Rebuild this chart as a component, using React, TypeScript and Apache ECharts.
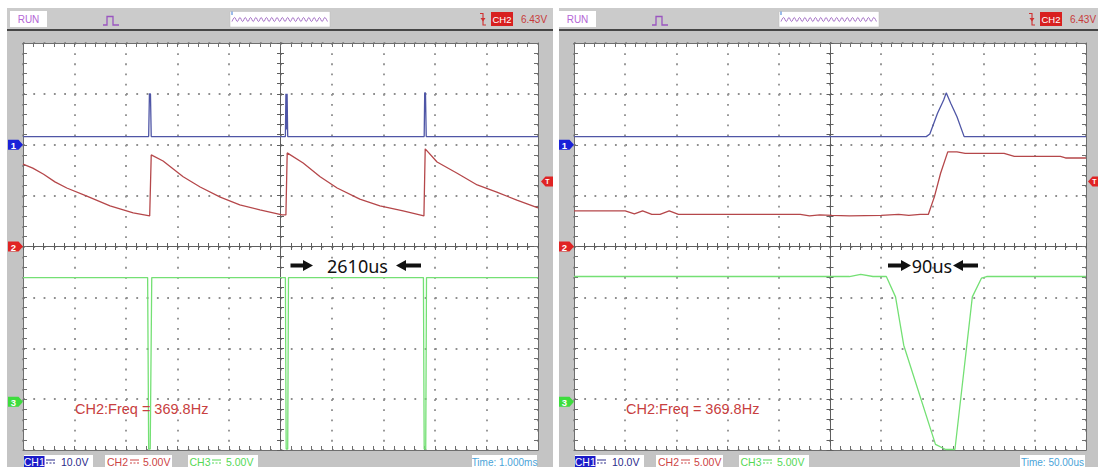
import React, { useEffect, useRef } from "react";
import * as echarts from "echarts";

// ---------- DATA (x: time, y: screen divisions, -4..4) ----------
const leftTimeRange = [-5, 5]; // ms, 1.000 ms/div
const rightTimeRange = [-250, 250]; // us, 50.00 us/div
const leftStep = 1;
const rightStep = 50;

const ch1Left = [
  [-5, 2.16], [-2.56, 2.16], [-2.545, 3.0], [-2.525, 3.0], [-2.51, 2.16],
  [0.095, 2.16], [0.105, 3.0], [0.118, 2.3], [0.128, 3.0], [0.14, 2.16],
  [2.79, 2.16], [2.8, 3.02], [2.815, 3.02], [2.83, 2.16], [5, 2.16],
];
const ch2Left = [
  [-5.0, 1.62], [-4.81, 1.54], [-4.6, 1.42], [-4.38, 1.27], [-4.15, 1.15], [-3.76, 0.99], [-3.31, 0.8], [-2.86, 0.66], [-2.54, 0.6],
  [-2.51, 1.8], [-2.28, 1.68], [-1.89, 1.37], [-1.56, 1.17], [-1.17, 0.97], [-0.79, 0.82], [-0.4, 0.72], [0.03, 0.62], [0.105, 0.62],
  [0.13, 1.84], [0.44, 1.64], [0.77, 1.37], [1.1, 1.15], [1.54, 0.93], [1.93, 0.8], [2.38, 0.7], [2.785, 0.6],
  [2.81, 1.92], [3.04, 1.66], [3.43, 1.44], [3.82, 1.21], [4.2, 1.07], [4.59, 0.91], [5.0, 0.76],
];
const ch3Left = [
  [-5, -0.61], [-2.58, -0.61], [-2.56, -3.98], [-2.53, -3.98], [-2.5, -0.61],
  [0.095, -0.61], [0.11, -3.98], [0.14, -3.98], [0.155, -0.61],
  [2.775, -0.61], [2.79, -3.98], [2.82, -3.98], [2.835, -0.61], [5, -0.61],
];
const ch1Right = [
  [-250, 2.16], [94, 2.16], [97.5, 2.21], [105, 2.62], [111, 2.88], [113.5, 3.02], [118, 2.81], [124, 2.55], [131, 2.16], [250, 2.16],
];
const ch2Right = [
  [-250, 0.7], [-200, 0.7], [-191, 0.64], [-183, 0.7], [-174, 0.63], [-166, 0.63], [-157, 0.7], [-148, 0.63],
  [-29, 0.63], [-20, 0.6], [-10, 0.62], [2, 0.61], [19, 0.6], [50, 0.61], [67, 0.63], [77, 0.61], [88, 0.63], [96, 0.63],
  [102, 0.98], [108, 1.44], [115, 1.86], [124, 1.86], [132, 1.83], [170, 1.83], [180, 1.77], [225, 1.77], [230, 1.74], [250, 1.74],
];
const ch3Right = [
  [-250, -0.59], [19, -0.59], [30, -0.55], [42, -0.59], [55, -0.59], [64, -0.99], [72, -1.94], [103, -3.89],
  [113, -3.99], [122, -3.99], [139, -0.99], [148, -0.62], [153, -0.59], [250, -0.59],
];

const channelNames = ["CH1", "CH2", "CH3"];
const channelScales = ["10.0V", "5.00V", "5.00V"];
const markerLevels = [2.0, 0, -3.05]; // ground markers, divisions
const triggerLevelDiv = 1.28;
const triggerText = "6.43V";
const timeLabels = ["Time: 1.000ms", "Time: 50.00us"];
const measureLabels = ["2610us", "90us"];
const freqText = "CH2:Freq = 369.8Hz";

// ---------- STYLE ----------
const COL = ["#4f56a6", "#b5474a", "#74e074"];
const MARK = ["#1a22d8", "#e02424", "#3ddc3d"];
const FRAME = "#6e6e6e";
const CENTER = "#5e5e5e";
const DOT = "#8e8e8e";
const GRID_TOP = 43;
const GRID_H = 407;

const panels = [
  { px: 7, pw: 546, gl: 23, gw: 515, ox: 0, sox: 0, tox: 0, range: leftTimeRange, step: leftStep,
    data: [ch1Left, ch2Left, ch3Left], arrows: [[290.5, 313, 1], [396, 421, -1]], mText: 357.5, freqX: 75, trigR: 553, trigGap: 3 },
  { px: 559, pw: 539, gl: 574, gw: 512, ox: 549, sox: 551, tox: 548, range: rightTimeRange, step: rightStep,
    data: [ch1Right, ch2Right, ch3Right], arrows: [[888, 911, 1], [953, 978, -1]], mText: 932, freqX: 626, trigR: 1102, trigGap: 2 },
];

const FONT = "'Liberation Sans', Arial, sans-serif";

function divToY(v: number) {
  return GRID_TOP + (4 - v) * (GRID_H / 8);
}

function tickSet(color: string, inside: boolean, len: number) {
  return {
    axisTick: { show: true, inside, length: len, lineStyle: { color, width: 1 } },
    minorTick: { show: true, splitNumber: 5, length: len, lineStyle: { color, width: 1 } },
  };
}

function makeXAxes(g: number, p: any) {
  const base = {
    gridIndex: g, type: "value", min: p.range[0], max: p.range[1], interval: p.step,
    axisLabel: { show: false }, splitLine: { show: false },
  };
  const dash = GRID_H / 40 - 1.8;
  return [
    { ...base, position: "bottom",
      axisLine: { show: true, onZero: false, lineStyle: { color: FRAME, width: 1 } },
      ...tickSet(FRAME, true, 4),
      splitLine: { show: true, lineStyle: { color: DOT, width: 1.8, type: [1.8, dash] } } },
    { ...base, position: "top",
      axisLine: { show: true, onZero: false, lineStyle: { color: FRAME, width: 1 } },
      ...tickSet(FRAME, true, 4) },
    { ...base, position: "bottom",
      axisLine: { show: true, onZero: true, lineStyle: { color: CENTER, width: 1 } },
      ...tickSet(CENTER, true, 3.5) },
    { ...base, position: "bottom",
      axisLine: { show: true, onZero: true, lineStyle: { color: CENTER, width: 1 } },
      ...tickSet(CENTER, false, 3.5) },
  ];
}

function makeYAxes(g: number, p: any) {
  const base = {
    gridIndex: g, type: "value", min: -4, max: 4, interval: 1,
    axisLabel: { show: false }, splitLine: { show: false },
  };
  const dash = p.gw / 50 - 1.8;
  return [
    { ...base, position: "left",
      axisLine: { show: true, onZero: false, lineStyle: { color: FRAME, width: 1 } },
      ...tickSet(FRAME, true, 4),
      splitLine: { show: true, lineStyle: { color: DOT, width: 1.8, type: [1.8, dash] } } },
    { ...base, position: "right",
      axisLine: { show: true, onZero: false, lineStyle: { color: FRAME, width: 1 } },
      ...tickSet(FRAME, true, 4) },
    { ...base, position: "left",
      axisLine: { show: true, onZero: true, lineStyle: { color: CENTER, width: 1 } },
      ...tickSet(CENTER, true, 3.5) },
    { ...base, position: "left",
      axisLine: { show: true, onZero: true, lineStyle: { color: CENTER, width: 1 } },
      ...tickSet(CENTER, false, 3.5) },
  ];
}

function txt(x: number, y: number, text: string, fill: string, size: number, align = "left", extra: any = {}) {
  return {
    type: "text", x, y, z: 20, silent: true,
    style: { text, fill, fontSize: size, fontFamily: FONT, align, verticalAlign: "middle", ...extra },
  };
}

function arrowPoly(x0: number, x1: number, yc: number, dir: number) {
  const pts = dir > 0
    ? [[x0, yc - 2], [x1 - 10, yc - 2], [x1 - 10, yc - 5.5], [x1, yc], [x1 - 10, yc + 5.5], [x1 - 10, yc + 2], [x0, yc + 2]]
    : [[x1, yc - 2], [x0 + 10, yc - 2], [x0 + 10, yc - 5.5], [x0, yc], [x0 + 10, yc + 5.5], [x0 + 10, yc + 2], [x1, yc + 2]];
  return { type: "polygon", z: 20, silent: true, shape: { points: pts }, style: { fill: "#111" } };
}

function panelGraphics(p: any, idx: number) {
  const els: any[] = [];
  const ox = p.ox;
  // backgrounds
  els.push({ type: "rect", z: -10, silent: true, shape: { x: p.px, y: 8, width: p.pw, height: 459 }, style: { fill: "#c4c4c4" } });
  els.push({ type: "rect", z: -9, silent: true, shape: { x: p.px, y: 8, width: p.pw, height: 21 }, style: { fill: "#cbcbcb" } });
  els.push({ type: "rect", z: -9, silent: true, shape: { x: p.px, y: 29, width: p.pw, height: 2 }, style: { fill: "#454545" } });
  // toolbar: RUN
  els.push({ type: "rect", z: 5, silent: true, shape: { x: 10 + ox, y: 11, width: 37, height: 16 }, style: { fill: "#fff" } });
  els.push(txt(28.5 + ox, 19.5, "RUN", "#b566d6", 10, "center"));
  // pulse icon
  els.push({ type: "polyline", z: 5, silent: true,
    shape: { points: [[103 + ox, 25], [107 + ox, 25], [107 + ox, 16.5], [113 + ox, 16.5], [113 + ox, 25], [119 + ox, 25]] },
    style: { stroke: "#9a55c0", lineWidth: 1.3, fill: null } });
  // waveform box
  els.push({ type: "rect", z: 5, silent: true, shape: { x: 230 + ox, y: 11.5, width: 100, height: 15.5 }, style: { fill: "#fff", stroke: "#bbb", lineWidth: 0.5 } });
  const zz: number[][] = [];
  for (let k = 0; k <= 36; k++) zz.push([232 + ox + k * 2.65, k % 2 === 0 ? 21.5 : 17.5]);
  els.push({ type: "polyline", z: 6, silent: true, shape: { points: zz, smooth: 0.4 }, style: { stroke: "#9a60c0", lineWidth: 0.9, fill: null } });
  els.push({ type: "line", z: 6, silent: true, shape: { x1: 232 + ox, y1: 11.5, x2: 232 + ox, y2: 15 }, style: { stroke: "#3a7ad8", lineWidth: 1 } });
  // trigger icon
  els.push({ type: "polyline", z: 6, silent: true,
    shape: { points: [[480 + ox, 13.5], [483 + ox, 13.5], [483 + ox, 25], [486 + ox, 25]] },
    style: { stroke: "#d03030", lineWidth: 1.1, fill: null } });
  els.push({ type: "polygon", z: 6, silent: true,
    shape: { points: [[480.5 + ox, 18], [485.5 + ox, 18], [483 + ox, 21.5]] }, style: { fill: "#d03030" } });
  // CH2 trigger source box
  els.push({ type: "rect", z: 5, silent: true, shape: { x: 491 + ox, y: 12, width: 22, height: 14 }, style: { fill: "#d82020" } });
  els.push(txt(502 + ox, 19.5, "CH2", "#fff", 9.5, "center"));
  els.push(txt(534 + ox, 19.5, triggerText, "#c83a3a", 10, "center"));

  // status bar
  const sox = p.sox;
  const boxX = [24, 105, 188];
  const boxW = [69, 67, 70];
  const nameX = [24, 107, 189.5];
  const symX = [46, 130, 212];
  const valX = [61, 143, 226];
  const nameCol = ["#fff", "#cc4444", "#55d855"];
  const valCol = ["#2a2a8a", "#cc4444", "#55d855"];
  for (let c = 0; c < 3; c++) {
    els.push({ type: "rect", z: 5, silent: true, shape: { x: boxX[c] + sox, y: 455, width: boxW[c], height: 13 }, style: { fill: "#fff" } });
    if (c === 0) {
      els.push({ type: "rect", z: 6, silent: true, shape: { x: nameX[0] + sox, y: 456, width: 20.5, height: 12 }, style: { fill: "#1a1ac8" } });
      els.push(txt(nameX[0] + sox + 10.25, 462, channelNames[0], nameCol[0], 10.5, "center"));
    } else {
      els.push(txt(nameX[c] + sox, 462, channelNames[c], nameCol[c], 10.5, "left"));
    }
    const sc = valCol[c];
    els.push({ type: "line", z: 6, silent: true, shape: { x1: symX[c] + sox, y1: 460, x2: symX[c] + sox + 9, y2: 460 }, style: { stroke: sc, lineWidth: 1 } });
    els.push({ type: "line", z: 6, silent: true, shape: { x1: symX[c] + sox, y1: 463, x2: symX[c] + sox + 9, y2: 463 }, style: { stroke: sc, lineWidth: 1, lineDash: [2, 1.5] } });
    els.push(txt(valX[c] + sox, 462, channelScales[c], valCol[c], 10.5, "left"));
  }
  els.push({ type: "rect", z: 5, silent: true, shape: { x: 472 + p.tox, y: 455, width: 65, height: 13 }, style: { fill: "#fff" } });
  els.push(txt(504.5 + p.tox, 462, timeLabels[idx], "#4aa3d8", 10, "center"));

  // channel ground markers
  for (let c = 0; c < 3; c++) {
    const yc = divToY(markerLevels[c]);
    const x0 = p.gl - 15;
    els.push({ type: "polygon", z: 20, silent: true,
      shape: { points: [[x0, yc - 5], [p.gl - 4.5, yc - 5], [p.gl, yc], [p.gl - 4.5, yc + 5], [x0, yc + 5]] },
      style: { fill: MARK[c] } });
    els.push(txt(x0 + 5.5, yc + 0.5, String(c + 1), "#fff", 9.5, "center", { fontWeight: "bold" }));
  }
  // trigger level marker (right side)
  {
    const yc = divToY(triggerLevelDiv);
    const xr = p.trigR;
    const xt = p.gl + p.gw + p.trigGap;
    els.push({ type: "polygon", z: 20, silent: true,
      shape: { points: [[xr, yc - 5], [xt + 4.5, yc - 5], [xt, yc], [xt + 4.5, yc + 5], [xr, yc + 5]] },
      style: { fill: "#e02424" } });
    els.push(txt(xt + 6.5, yc + 0.5, "T", "#fff", 7, "center", { fontWeight: "bold" }));
  }

  // measurement annotation
  for (const a of p.arrows) els.push(arrowPoly(a[0], a[1], 265.5, a[2]));
  els.push({ type: "text", x: p.mText, y: 265.5, z: 20, silent: true,
    style: { text: measureLabels[idx], fill: "#111", fontSize: 18, fontFamily: "'Noto Sans', 'Open Sans', sans-serif", align: "center", verticalAlign: "middle" } });
  // frequency readout
  els.push(txt(p.freqX, 409, freqText, "#c84040", 14.5, "left"));
  return els;
}

export default function App() {
  const ref = useRef<HTMLDivElement>(null);
  useEffect(() => {
    document.body.style.margin = "0";
    if (!ref.current) return;
    const chart = echarts.init(ref.current, undefined, { renderer: "svg" });
    const grids: any[] = [];
    const xAxis: any[] = [];
    const yAxis: any[] = [];
    const series: any[] = [];
    let graphic: any[] = [];
    panels.forEach((p, g) => {
      grids.push({ left: p.gl, top: GRID_TOP, width: p.gw, height: GRID_H, show: true, backgroundColor: "#ffffff", borderWidth: 0, containLabel: false });
      xAxis.push(...makeXAxes(g, p));
      yAxis.push(...makeYAxes(g, p));
      p.data.forEach((d: number[][], c: number) => {
        series.push({
          type: "line", name: channelNames[c], xAxisIndex: g * 4, yAxisIndex: g * 4, data: d,
          showSymbol: false, symbol: "none", clip: true, z: 3 + c,
          lineStyle: { color: COL[c], width: 1.3 }, emphasis: { disabled: true },
        });
      });
      graphic = graphic.concat(panelGraphics(p, g));
    });
    chart.setOption({
      animation: false,
      backgroundColor: "#ffffff",
      grid: grids,
      xAxis,
      yAxis,
      series,
      graphic,
    });
    return () => chart.dispose();
  }, []);
  return <div ref={ref} style={{ width: 1098, height: 467 }} />;
}
